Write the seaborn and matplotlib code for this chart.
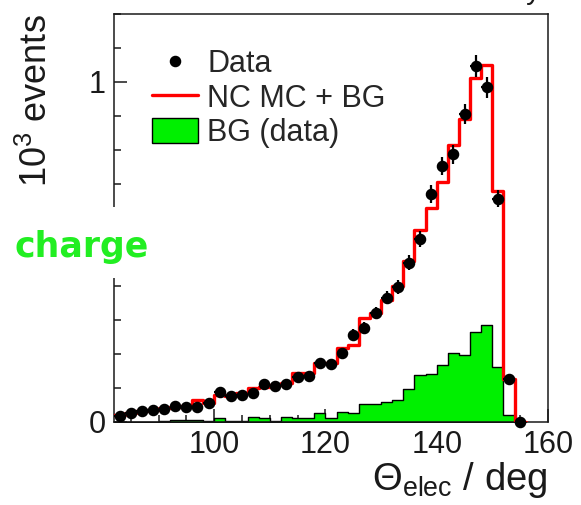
import numpy as np
import pandas as pd
import seaborn as sns
import matplotlib
matplotlib.use("Agg")
import matplotlib.pyplot as plt
from matplotlib.lines import Line2D
from matplotlib.patches import Patch, Rectangle
from matplotlib.ticker import MultipleLocator

# Electron polar angle bins (centres, deg), 2 deg wide
theta_centers = [83, 85, 87, 89, 91, 93, 95, 97, 99, 101, 103, 105, 107, 109,
                 111, 113, 115, 117, 119, 121, 123, 125, 127, 129, 131, 133,
                 135, 137, 139, 141, 143, 145, 147, 149, 151, 153, 155]

# Measured events (10^3) with statistical errors
data_counts = [0.018, 0.026, 0.031, 0.035, 0.037, 0.047, 0.045, 0.043, 0.055,
               0.088, 0.077, 0.080, 0.085, 0.112, 0.106, 0.112, 0.132, 0.136,
               0.173, 0.171, 0.203, 0.257, 0.276, 0.321, 0.365, 0.397, 0.468,
               0.538, 0.670, 0.753, 0.788, 0.906, 1.048, 0.984, 0.657, 0.127,
               0.000]
data_err = [0.004, 0.005, 0.006, 0.006, 0.006, 0.007, 0.007, 0.007, 0.007,
            0.009, 0.009, 0.009, 0.009, 0.011, 0.010, 0.011, 0.012, 0.012,
            0.013, 0.013, 0.014, 0.016, 0.017, 0.018, 0.019, 0.020, 0.022,
            0.023, 0.026, 0.027, 0.028, 0.030, 0.032, 0.031, 0.026, 0.011,
            0.000]

# NC Monte Carlo + background prediction (10^3 events)
mc_plus_bg = [0.020, 0.026, 0.031, 0.036, 0.040, 0.045, 0.047, 0.064, 0.055,
              0.078, 0.077, 0.086, 0.099, 0.104, 0.108, 0.116, 0.144, 0.144,
              0.172, 0.172, 0.218, 0.227, 0.307, 0.320, 0.358, 0.400, 0.473,
              0.566, 0.630, 0.706, 0.814, 0.891, 1.011, 1.050, 0.679, 0.127,
              0.000]

# Background estimated from data (10^3 events)
bg_data = [0.001, 0.001, 0.001, 0.001, 0.002, 0.006, 0.006, 0.006, 0.003,
           0.012, 0.004, 0.004, 0.014, 0.012, 0.003, 0.016, 0.013, 0.013,
           0.026, 0.012, 0.029, 0.025, 0.052, 0.052, 0.058, 0.066, 0.097,
           0.137, 0.141, 0.167, 0.203, 0.198, 0.265, 0.284, 0.162, 0.021,
           0.000]

x_ticks = [100, 120, 140, 160]
y_ticks = [0, 1]
y_tick_labels = ["0", "1"]

bin_half = 1.0
edges = [c - bin_half for c in theta_centers] + [theta_centers[-1] + bin_half]

df = pd.DataFrame({"theta": theta_centers, "data": data_counts, "err": data_err,
                   "mc": mc_plus_bg, "bg": bg_data})

sns.set_theme(style="ticks")
plt.rcParams["font.family"] = ["Liberation Sans", "DejaVu Sans"]
plt.rcParams["mathtext.fontset"] = "custom"
plt.rcParams["mathtext.rm"] = "Liberation Sans"
plt.rcParams["mathtext.it"] = "Liberation Sans:italic"
plt.rcParams["mathtext.bf"] = "Liberation Sans:bold"

GREEN = "#00f000"
RED = "#ff0000"
INK = "#1a1a1a"

fig = plt.figure(figsize=(5.81, 5.05), dpi=100)
fig.patch.set_facecolor("white")
ax = fig.add_axes([0.1962, 0.1644, 0.7470, 0.8079])
ax.set_facecolor("white")

# Background from data: filled histogram
sns.histplot(data=df, x="theta", weights="bg", bins=edges, element="step",
             fill=True, color=GREEN, edgecolor="black", linewidth=1.0,
             alpha=1.0, ax=ax, zorder=2)
# MC + background: red outline
sns.histplot(data=df, x="theta", weights="mc", bins=edges, element="step",
             fill=False, color=RED, linewidth=2.4, ax=ax, zorder=3)

# Data points with errors
ax.errorbar(df["theta"], df["data"], yerr=df["err"], xerr=bin_half,
            fmt="o", color="black", markersize=7.3, elinewidth=1.6,
            capsize=0, zorder=4, clip_on=False)

ax.set_xlim(82, 160)
ax.set_ylim(0, 1.2)
ax.xaxis.set_major_locator(MultipleLocator(20))
ax.xaxis.set_minor_locator(MultipleLocator(5))
ax.set_xticks(x_ticks)
ax.set_yticks(y_ticks)
ax.set_yticklabels(y_tick_labels)
ax.yaxis.set_minor_locator(MultipleLocator(0.1))

for s in ax.spines.values():
    s.set_color(INK)
    s.set_linewidth(1.1)
    s.set_visible(True)

ax.tick_params(axis="both", which="both", direction="in", colors=INK,
               top=False, right=False, labelsize=22, width=1.1)
ax.tick_params(axis="both", which="major", length=9.5)
ax.tick_params(axis="both", which="minor", length=5)
ax.tick_params(axis="x", which="major", pad=6)
ax.tick_params(axis="y", which="major", pad=6)

ax.set_xlabel(r"$\Theta_{\mathrm{elec}}$ / deg", fontsize=27.5, loc="right",
              color=INK)
ax.xaxis.set_label_coords(1.0, -0.092)
ax.set_ylabel(r"$10^{3}$ events", fontsize=26, loc="top", color=INK)
ax.yaxis.set_label_coords(-0.137, 1.0)

handles = [
    Line2D([], [], marker="o", linestyle="none", color="black", markersize=7.3),
    Line2D([], [], color=RED, linewidth=2.4),
    Patch(facecolor=GREEN, edgecolor="black", linewidth=1.0),
]
labels = ["Data", "NC MC + BG", "BG (data)"]
ax.legend(handles, labels, loc="upper left", bbox_to_anchor=(0.088, 0.913),
          frameon=False, fontsize=22, handlelength=1.5, handleheight=0.85,
          handletextpad=0.3, labelspacing=0.14, borderpad=0,
          borderaxespad=0)

# Overlay label on the left side
fig.patches.append(Rectangle((0.0, 0.4495), 0.2926, 0.1406,
                             transform=fig.transFigure, facecolor="white",
                             edgecolor="none", zorder=5))
fig.text(15 / 581, 1 - 257 / 505, "charge", color="#22ee22", fontsize=25,
         fontweight="bold", family=["DejaVu Sans"], ha="left",
         va="baseline", zorder=6)

# Header text running off the top edge
fig.text(541 / 581, 1 + 1 / 505, "Preliminary", color=INK, fontsize=21,
         ha="right", va="baseline")

fig.savefig("out.png", dpi=100, facecolor="white")
